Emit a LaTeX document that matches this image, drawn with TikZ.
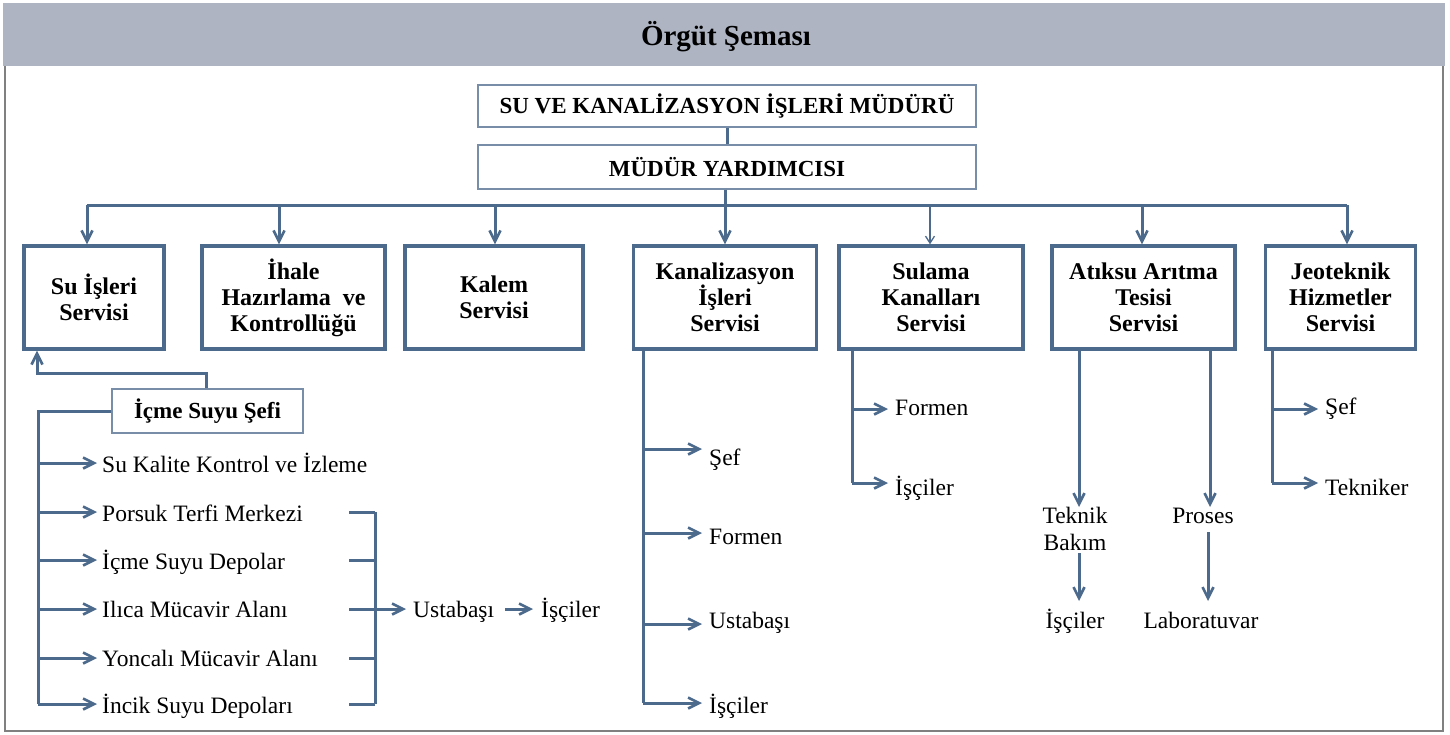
\documentclass[tikz,border=0pt]{standalone}
\usepackage{fontspec}
\setmainfont{Liberation Serif}
\usetikzlibrary{arrows.meta}
\definecolor{lc}{RGB}{76,106,140}
\definecolor{tb}{RGB}{120,142,168}
\definecolor{bar}{RGB}{174,180,194}
\definecolor{fr}{RGB}{128,128,128}
\begin{document}
\begin{tikzpicture}[x=1pt,y=-1pt,
  ln/.style={draw=lc,line width=3pt},
  arr/.style={ln,-{Straight Barb[length=11pt,width=11pt,line width=2.6pt]}},
  thinarr/.style={draw=lc,line width=1.3pt,-{Straight Barb[length=7pt,width=9pt]}},
  sbox/.style={draw=lc,line width=3.4pt,fill=white,align=center,inner sep=2pt,
    minimum height=103pt,font=\fontsize{24}{26}\selectfont\bfseries},
  tbox/.style={draw=tb,line width=1.2pt,fill=white,align=center,inner sep=2pt,
    font=\fontsize{23}{26}\selectfont\bfseries},
  lbl/.style={inner sep=0pt,font=\fontsize{23.5}{27}\selectfont},
  clbl/.style={lbl,align=center}]
\useasboundingbox (0,0) rectangle (1450,734);
% frame and title bar
\fill[white] (0,0) rectangle (1450,734);
\draw[fr,line width=2pt] (5,66) -- (5,731) -- (1443,731) -- (1443,66);
\fill[bar] (3,3) rectangle (1445,66);
\node[font=\fontsize{29}{32}\selectfont\bfseries,inner sep=0pt] (title) at (726,37) {Örgüt Şeması};
% top boxes
\node[tbox,minimum width=498pt,minimum height=42pt] (m1) at (727,106) {SU VE KANALİZASYON İŞLERİ MÜDÜRÜ};
\node[tbox,minimum width=498pt,minimum height=44pt] (m2) at (727,167) {MÜDÜR YARDIMCISI};
\draw[ln] (m1.south) -- (m2.north);
% service boxes
\node[sbox,minimum width=140pt] (s1) at (94,297.5) {Su İşleri\\Servisi};
\node[sbox,minimum width=183pt] (s2) at (293.5,297.5) {İhale\\Hazırlama~ ve\\Kontrollüğü};
\node[sbox,minimum width=178pt] (s3) at (494,297.5) {Kalem\\Servisi};
\node[sbox,minimum width=183pt] (s4) at (725,297.5) {Kanalizasyon\\İşleri\\Servisi};
\node[sbox,minimum width=184pt] (s5) at (931,297.5) {Sulama\\Kanalları\\Servisi};
\node[sbox,minimum width=183pt] (s6) at (1143.5,297.5) {Atıksu Arıtma\\Tesisi\\Servisi};
\node[sbox,minimum width=150pt] (s7) at (1340.5,297.5) {Jeoteknik\\Hizmetler\\Servisi};
% bus
\coordinate (b1) at (87,205);
\coordinate (b2) at (279,205);
\coordinate (b3) at (495,205);
\coordinate (b4) at (725,205);
\coordinate (b5) at (930,205);
\coordinate (b6) at (1142,205);
\coordinate (b7) at (1347,205);
\draw[ln] (b1) -- (b7);
\draw[arr] (m2.south -| b4) -- (b4 |- s4.north);
\draw[arr] (b1) -- (b1 |- s1.north);
\draw[arr] (b2) -- (b2 |- s2.north);
\draw[arr] (b3) -- (b3 |- s3.north);
\draw[thinarr] (b5) -- (b5 |- s5.north);
\draw[arr] (b6) -- (b6 |- s6.north);
\draw[arr] (b7) -- (b7 |- s7.north);
% Icme Suyu Sefi
\node[tbox,minimum width=191pt,minimum height=44pt] (ic) at (207.5,411) {İçme Suyu Şefi};
\coordinate (c1) at (206,373);
\coordinate (c2) at (37,373);
\draw[arr] (ic.north -| c1) -- (c1) -- (c2) -- (c2 |- s1.south);
% left items
\coordinate (lx) at (38,411);
\node[lbl,anchor=base west] (i1) at (102,472) {Su Kalite Kontrol ve İzleme};
\node[lbl,anchor=base west] (i2) at (102,521) {Porsuk Terfi Merkezi};
\node[lbl,anchor=base west] (i3) at (102,569) {İçme Suyu Depolar};
\node[lbl,anchor=base west] (i4) at (102,617) {Ilıca Mücavir Alanı};
\node[lbl,anchor=base west] (i5) at (102,666) {Yoncalı Mücavir Alanı};
\node[lbl,anchor=base west] (i6) at (102,713) {İncik Suyu Depoları};
\coordinate (a1) at (97,463);
\coordinate (a2) at (97,512);
\coordinate (a3) at (97,560);
\coordinate (a4) at (97,609);
\coordinate (a5) at (97,658);
\coordinate (a6) at (97,704);
\draw[ln] (ic.west) -- (lx) -- (lx |- a6);
\foreach \k in {1,...,6} {\draw[arr] (lx |- a\k) -- (a\k);}
% bracket
\coordinate (r0) at (349,0);
\coordinate (r1) at (375,0);
\foreach \k in {2,...,6} {\draw[ln] (r0 |- a\k) -- (r1 |- a\k);}
\draw[ln] (r1 |- a2) -- (r1 |- a6);
\node[lbl,anchor=base west] (us) at (413,617) {Ustabaşı};
\node[lbl,anchor=base west] (is) at (541,617) {İşçiler};
\coordinate (u1) at (406,609);
\coordinate (u2) at (505,609);
\coordinate (u3) at (533,609);
\draw[arr] (r1 |- u1) -- (u1);
\draw[arr] (u2) -- (u3);
% Kanalizasyon
\coordinate (kx) at (643,0);
\node[lbl,anchor=base west] (k1) at (709,465) {Şef};
\node[lbl,anchor=base west] (k2) at (709,544) {Formen};
\node[lbl,anchor=base west] (k3) at (709,628) {Ustabaşı};
\node[lbl,anchor=base west] (k4) at (709,713) {İşçiler};
\coordinate (ka1) at (702,449);
\coordinate (ka2) at (702,533);
\coordinate (ka3) at (702,624);
\coordinate (ka4) at (702,703);
\draw[ln] (kx |- s4.south) -- (kx |- ka4);
\foreach \k in {1,...,4} {\draw[arr] (kx |- ka\k) -- (ka\k);}
% Sulama
\coordinate (sx) at (852,0);
\node[lbl,anchor=base west] (l1) at (895,415) {Formen};
\node[lbl,anchor=base west] (l2) at (895,495) {İşçiler};
\coordinate (sa1) at (888,409);
\coordinate (sa2) at (888,483);
\draw[ln] (sx |- s5.south) -- (sx |- sa2);
\draw[arr] (sx |- sa1) -- (sa1);
\draw[arr] (sx |- sa2) -- (sa2);
% Atiksu
\node[lbl,anchor=base] (t1) at (1075,523) {Teknik};
\node[lbl,anchor=base] (t1b) at (1075,550) {Bakım};
\node[lbl,anchor=base] (t2) at (1203,523) {Proses};
\node[lbl,anchor=base] (t3) at (1075,628) {İşçiler};
\node[lbl,anchor=base] (t4) at (1201,628) {Laboratuvar};
\coordinate (ta) at (1079,507);
\coordinate (tb) at (1210,507);
\draw[arr] (ta |- s6.south) -- (ta);
\draw[arr] (tb |- s6.south) -- (tb);
\coordinate (tc1) at (1079,553);
\coordinate (tc2) at (1079,601);
\coordinate (td1) at (1208,532);
\coordinate (td2) at (1208,601);
\draw[arr] (tc1) -- (tc2);
\draw[arr] (td1) -- (td2);
% Jeoteknik
\coordinate (jx) at (1272,0);
\node[lbl,anchor=base west] (j1) at (1325,414) {Şef};
\node[lbl,anchor=base west] (j2) at (1325,495) {Tekniker};
\coordinate (ja1) at (1318,409);
\coordinate (ja2) at (1318,483);
\draw[ln] (jx |- s7.south) -- (jx |- ja2);
\draw[arr] (jx |- ja1) -- (ja1);
\draw[arr] (jx |- ja2) -- (ja2);
\end{tikzpicture}
\end{document}
